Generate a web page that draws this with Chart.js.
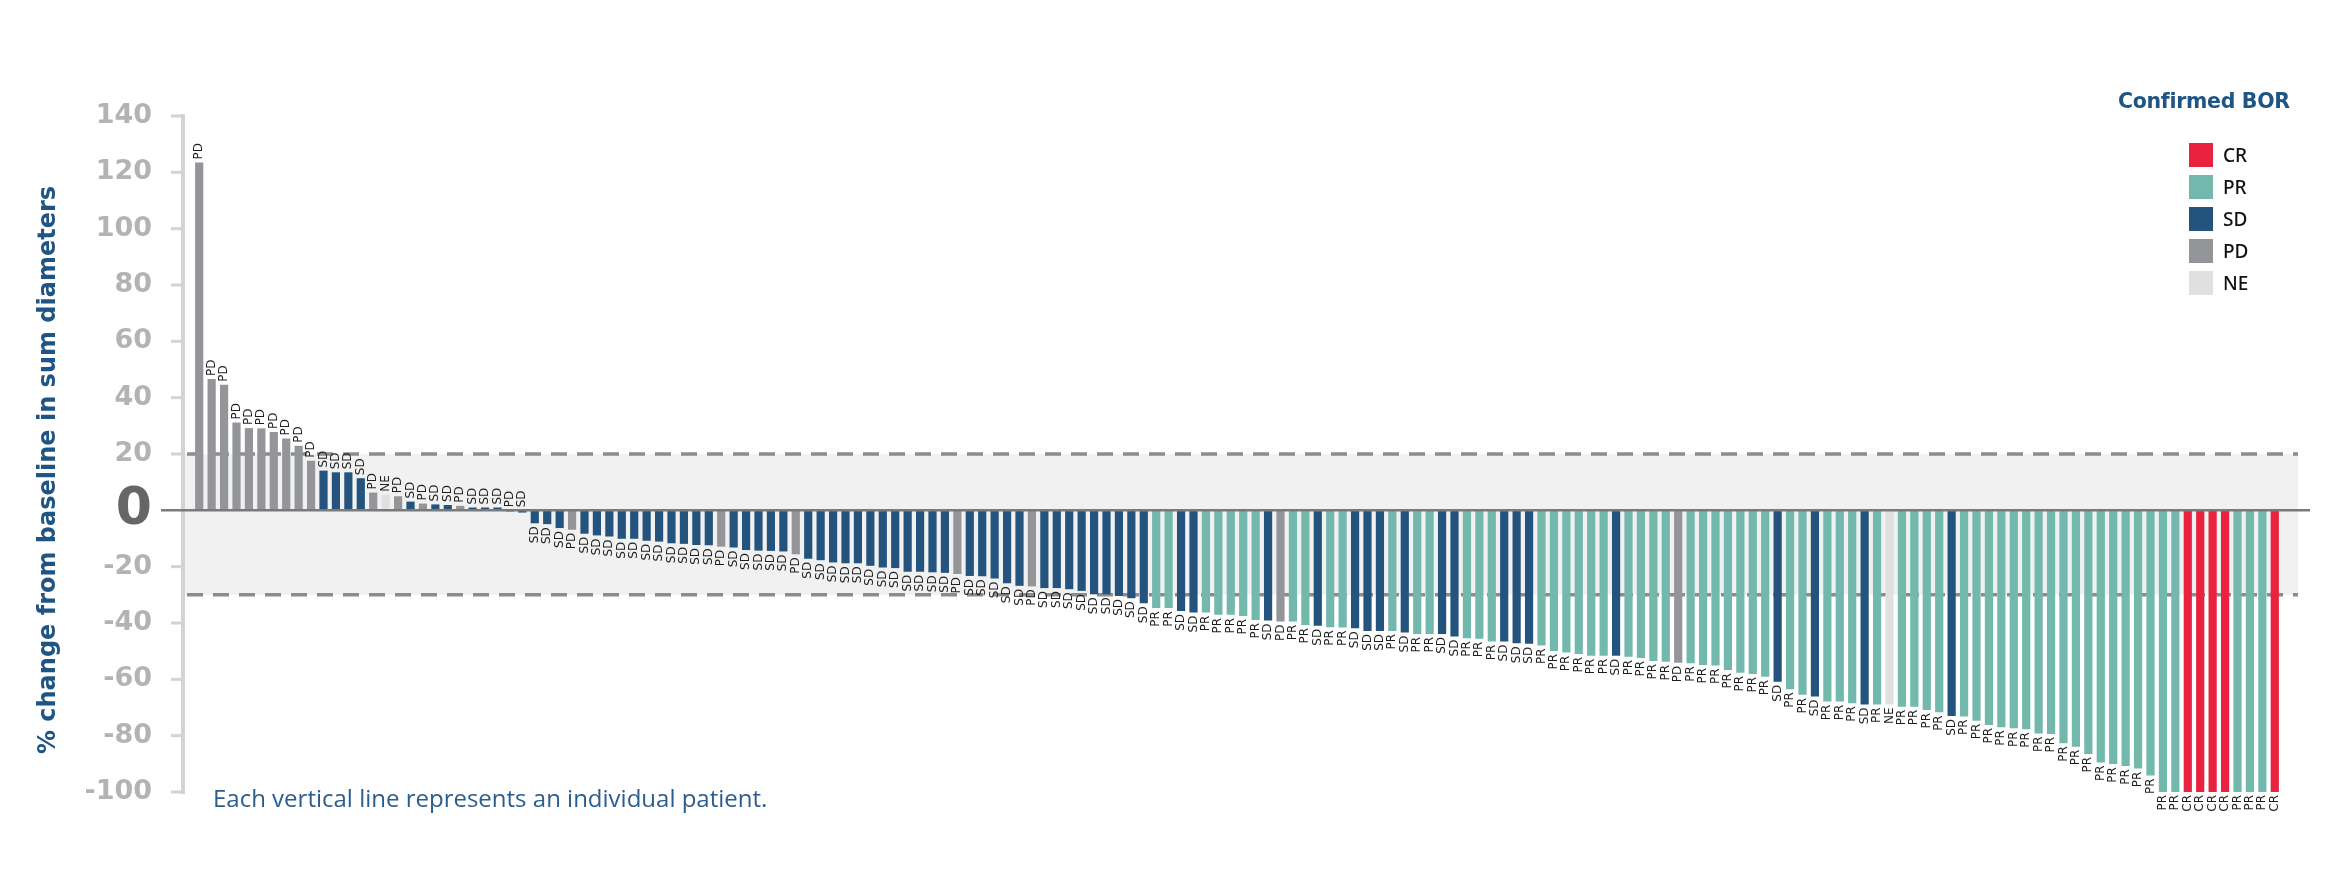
<!DOCTYPE html>
<html lang="en">
<head>
  <meta charset="UTF-8">
  <meta name="viewport" content="width=device-width, initial-scale=1.0">
  <title>Best change in tumour size</title>
  <script src="https://cdn.jsdelivr.net/npm/chart.js@4.4.1/dist/chart.umd.min.js"></script>
  <style>
    body { margin: 0; background: #fff; }
    #wrap { position: relative; width: 2334px; height: 896px; }
    #legendTitle { position: absolute; left: 2118px; top: 89px; font: bold 20.5px "DejaVu Sans", sans-serif; color: #1f5585; letter-spacing: -0.3px; }
    .legItem { position: absolute; left: 2189px; display: flex; align-items: center; font: 500 19px "Noto Sans", sans-serif; color: #111; }
    .legItem span { display: inline-block; width: 24px; height: 24px; margin-right: 10px; }
    #note { position: absolute; left: 213px; top: 781px; font: 24px "Open Sans", sans-serif; color: #2c5d8f; }
  </style>
</head>
<body>
  <div id="wrap">
    <canvas id="myChart"></canvas>
    <div id="legendTitle">Confirmed BOR</div>
    <div id="note">Each vertical line represents an individual patient.</div>
  </div>
  <script>
    // best overall response for each patient, sorted by % change
    const bor = [
      'PD','PD','PD','PD','PD','PD','PD','PD','PD','PD',
      'SD','SD','SD','SD','PD','NE','PD','SD','PD','SD',
      'SD','PD','SD','SD','SD','PD','SD','SD','SD','SD',
      'PD','SD','SD','SD','SD','SD','SD','SD','SD','SD',
      'SD','SD','PD','SD','SD','SD','SD','SD','PD','SD',
      'SD','SD','SD','SD','SD','SD','SD','SD','SD','SD',
      'SD','PD','SD','SD','SD','SD','SD','PD','SD','SD',
      'SD','SD','SD','SD','SD','SD','SD','PR','PR','SD',
      'SD','PR','PR','PR','PR','PR','SD','PD','PR','PR',
      'SD','PR','PR','SD','SD','SD','PR','SD','PR','PR',
      'SD','SD','PR','PR','PR','SD','SD','SD','PR','PR',
      'PR','PR','PR','PR','SD','PR','PR','PR','PR','PD',
      'PR','PR','PR','PR','PR','PR','PR','SD','PR','PR',
      'SD','PR','PR','PR','SD','PR','NE','PR','PR','PR',
      'PR','SD','PR','PR','PR','PR','PR','PR','PR','PR',
      'PR','PR','PR','PR','PR','PR','PR','PR','PR','PR',
      'CR','CR','CR','CR','PR','PR','PR','CR'
    ];
    const pctChange = [
      123.5, 46.6, 44.6, 31.2, 29.2, 29.1, 27.8, 25.5, 22.9, 17.6,
      14.1, 13.5, 13.5, 11.4, 6.3, 5.5, 5.0, 3.1, 2.4, 2.1,
      1.9, 1.6, 1.0, 1.0, 1.0, -0.5, -0.8, -4.6, -4.9, -6.3,
      -6.9, -8.3, -8.9, -9.3, -10.1, -10.1, -10.8, -11.1, -11.7, -11.9,
      -12.3, -12.4, -12.9, -13.2, -14.1, -14.3, -14.4, -14.6, -15.6, -17.2,
      -17.7, -18.5, -18.8, -18.8, -19.7, -20.3, -20.5, -21.8, -21.8, -22.0,
      -22.2, -22.6, -23.3, -23.4, -24.2, -25.9, -26.8, -27.0, -27.6, -27.6,
      -28.0, -28.6, -29.8, -29.8, -30.4, -31.2, -33.0, -34.7, -34.7, -35.7,
      -36.3, -36.3, -37.1, -37.1, -37.5, -38.9, -39.1, -39.5, -39.5, -40.7,
      -41.0, -41.5, -41.6, -41.9, -42.8, -42.8, -42.8, -43.4, -43.9, -43.9,
      -43.9, -44.8, -45.4, -45.6, -46.6, -46.6, -47.2, -47.4, -48.0, -49.9,
      -50.5, -51.0, -51.6, -51.6, -51.6, -52.0, -52.4, -53.5, -53.8, -54.1,
      -54.3, -54.9, -55.1, -56.7, -57.7, -58.1, -59.1, -60.9, -63.5, -65.5,
      -66.1, -67.9, -67.9, -68.5, -68.9, -68.9, -68.9, -69.7, -69.7, -70.9,
      -71.7, -73.0, -73.2, -74.7, -76.2, -77.0, -77.4, -77.7, -79.2, -79.4,
      -82.7, -83.9, -86.5, -89.5, -90.1, -90.8, -91.7, -94.1, -100, -100,
      -100, -100, -100, -100, -100, -100, -100, -100
    ];
    const patients = pctChange.map((_, i) => 'Patient ' + (i + 1));
    const legendOrder = ['CR', 'PR', 'SD', 'PD', 'NE'];
    const borColors = { CR: '#e8223f', PR: '#72b8ad', SD: '#24547d', PD: '#939598', NE: '#e0e0e0' };
    const yMin = -100, yMax = 140, yStep = 20;
    const refLines = [20, -30]; // progression / response thresholds
    const yTitle = '% change from baseline in sum diameters';

    // legend (html)
    legendOrder.forEach((k, i) => {
      const el = document.createElement('div');
      el.className = 'legItem';
      el.style.top = (142 + i * 32) + 'px';
      el.innerHTML = '<span style="background:' + borColors[k] + '"></span>' + k;
      document.getElementById('wrap').appendChild(el);
    });

    const isZero = c => c.tick && c.tick.value === 0;

    const decor = {
      id: 'decor',
      beforeDatasetsDraw(chart) {
        const { ctx, chartArea, scales: { y } } = chart;
        const axisX = chartArea.left - 10;
        const right = chartArea.right + 17;
        const y1 = y.getPixelForValue(refLines[0]);
        const y2 = y.getPixelForValue(refLines[1]);
        ctx.save();
        ctx.fillStyle = '#f1f1f1';
        ctx.fillRect(axisX, y1, right - axisX, y2 - y1);

        // axis line with short ticks
        ctx.strokeStyle = '#d3d3d3';
        ctx.lineWidth = 4;
        ctx.beginPath();
        ctx.moveTo(axisX, y.getPixelForValue(yMax) - 2);
        ctx.lineTo(axisX, y.getPixelForValue(yMin) + 2);
        ctx.stroke();
        ctx.lineWidth = 3;
        y.ticks.forEach(t => {
          if (t.value === 0) return;
          const py = y.getPixelForValue(t.value);
          ctx.beginPath();
          ctx.moveTo(axisX - 12, py);
          ctx.lineTo(axisX, py);
          ctx.stroke();
        });

        ctx.setLineDash([16, 10]);
        ctx.strokeStyle = '#8c8c8c';
        ctx.lineWidth = 3.5;
        refLines.forEach(v => {
          const py = y.getPixelForValue(v);
          ctx.beginPath();
          ctx.moveTo(axisX + 4, py);
          ctx.lineTo(right, py);
          ctx.stroke();
        });
        ctx.restore();
      },
      afterDatasetsDraw(chart) {
        const { ctx, chartArea, scales: { y } } = chart;
        const y0 = y.getPixelForValue(0);
        ctx.save();
        ctx.strokeStyle = '#7a7a7a';
        ctx.lineWidth = 2.5;
        ctx.beginPath();
        ctx.moveTo(chartArea.left - 32, y0);
        ctx.lineTo(chartArea.right + 29, y0);
        ctx.stroke();

        // response label at the end of every bar
        ctx.font = '12px "DejaVu Sans"';
        ctx.fillStyle = '#1e1e1e';
        ctx.textBaseline = 'middle';
        chart.getDatasetMeta(0).data.forEach((bar, i) => {
          ctx.save();
          if (pctChange[i] > -1) {
            ctx.translate(bar.x, Math.min(bar.y, bar.base) - 3);
            ctx.rotate(-Math.PI / 2);
            ctx.textAlign = 'left';
          } else {
            ctx.translate(bar.x, bar.y + 3);
            ctx.rotate(-Math.PI / 2);
            ctx.textAlign = 'right';
          }
          ctx.fillText(bor[i], 0, 0);
          ctx.restore();
        });

        // y axis title
        ctx.translate(49, 470);
        ctx.rotate(-Math.PI / 2);
        ctx.font = 'bold 24px "DejaVu Sans"';
        ctx.fillStyle = '#1f5585';
        ctx.textAlign = 'center';
        ctx.fillText(yTitle, 0, 0);
        ctx.restore();
      }
    };

    const ctx = document.getElementById('myChart').getContext('2d');
    const myChart = new Chart(ctx, {
      type: 'bar',
      data: {
        labels: patients,
        datasets: [{
          label: 'Confirmed BOR',
          data: pctChange,
          backgroundColor: bor.map(b => borColors[b]),
          barPercentage: 0.66,
          categoryPercentage: 1
        }]
      },
      options: {
        responsive: true,
        maintainAspectRatio: false,
        animation: false,
        layout: { padding: { left: 0, right: 53, top: 116, bottom: 104 } },
        plugins: { legend: { display: false }, tooltip: { enabled: false } },
        scales: {
          x: { display: false },
          y: {
            min: yMin,
            max: yMax,
            afterFit(scale) { scale.width = 193; },
            grid: { display: false, drawTicks: false },
            border: { display: false },
            ticks: {
              stepSize: yStep,
              padding: 41,
              autoSkip: false,
              color: c => isZero(c) ? '#666666' : '#b3b3b3',
              font: c => isZero(c)
                ? { family: '"DejaVu Sans"', size: 52, weight: 'bold' }
                : { family: '"DejaVu Sans"', size: 27, weight: 'bold' }
            }
          }
        }
      },
      plugins: [decor]
    });
  </script>
</body>
</html>
